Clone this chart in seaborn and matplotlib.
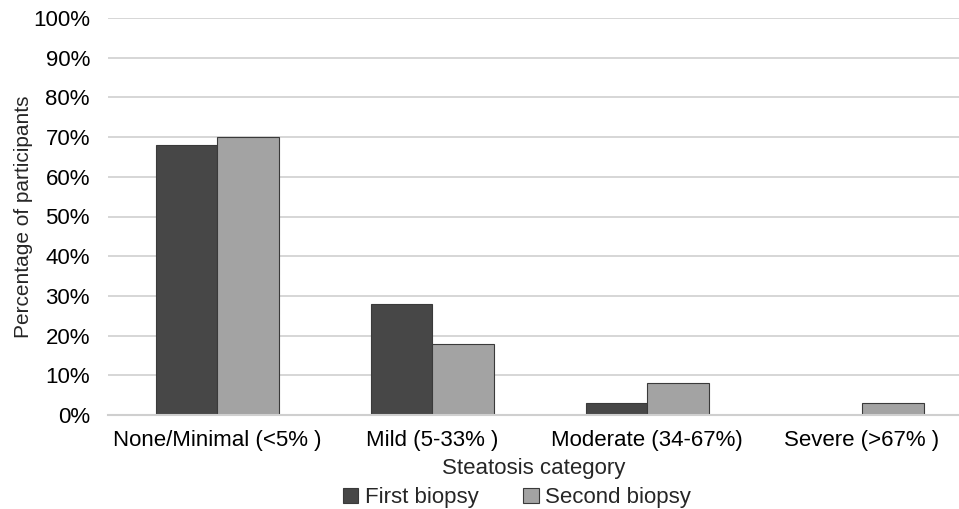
import matplotlib
matplotlib.use("Agg")
import matplotlib.pyplot as plt
import seaborn as sns
import pandas as pd
from matplotlib.ticker import PercentFormatter

categories = ["None/Minimal (<5% )", "Mild (5-33% )", "Moderate (34-67%)", "Severe (>67% )"]
first_biopsy = [68, 28, 3, 0]
second_biopsy = [70, 18, 8, 3]
series_names = ["First biopsy", "Second biopsy"]

df = pd.DataFrame({
    "category": categories * 2,
    "value": first_biopsy + second_biopsy,
    "series": [series_names[0]] * 4 + [series_names[1]] * 4,
})

sns.set_theme(style="white")
plt.rcParams['font.family'] = ['Liberation Sans', 'DejaVu Sans']

fig = plt.figure(figsize=(9.59, 5.09), dpi=100)
ax = fig.add_axes([108 / 959, 1 - 415 / 509, (959 - 108) / 959, (415 - 18) / 509])

palette = {series_names[0]: "#474747", series_names[1]: "#a3a3a3"}
sns.barplot(data=df, x="category", y="value", hue="series", palette=palette,
            order=categories, hue_order=series_names, width=0.572,
            saturation=1, edgecolor="#3a3a3a", linewidth=0.8, ax=ax, legend=True)

ax.set_xlim(-0.507, 3.451)
ax.set_ylim(0, 100)
ax.set_yticks(range(0, 101, 10))
ax.yaxis.set_major_formatter(PercentFormatter(decimals=0))
ax.grid(axis="y", color="#d0d0d0", linewidth=1.2)
ax.set_axisbelow(True)
for s in ["top", "right", "left"]:
    ax.spines[s].set_visible(False)
ax.spines["bottom"].set_color("#cfcfcf")
ax.spines["bottom"].set_linewidth(1.5)
ax.tick_params(axis="both", length=0, labelsize=16, colors="black")
ax.tick_params(axis="y", pad=13)
ax.tick_params(axis="x", pad=11)
ax.set_xlabel("Steatosis category", fontsize=16, labelpad=5)
ax.set_ylabel("Percentage of participants", fontsize=15, labelpad=0)

ax.legend(loc="upper center", bbox_to_anchor=((517 - 108) / 851, -0.16), ncol=2, frameon=False,
          fontsize=16, handlelength=0.7, handleheight=0.7, handletextpad=0.3,
          columnspacing=2.0, borderaxespad=0)

fig.savefig("out.png", dpi=100)
